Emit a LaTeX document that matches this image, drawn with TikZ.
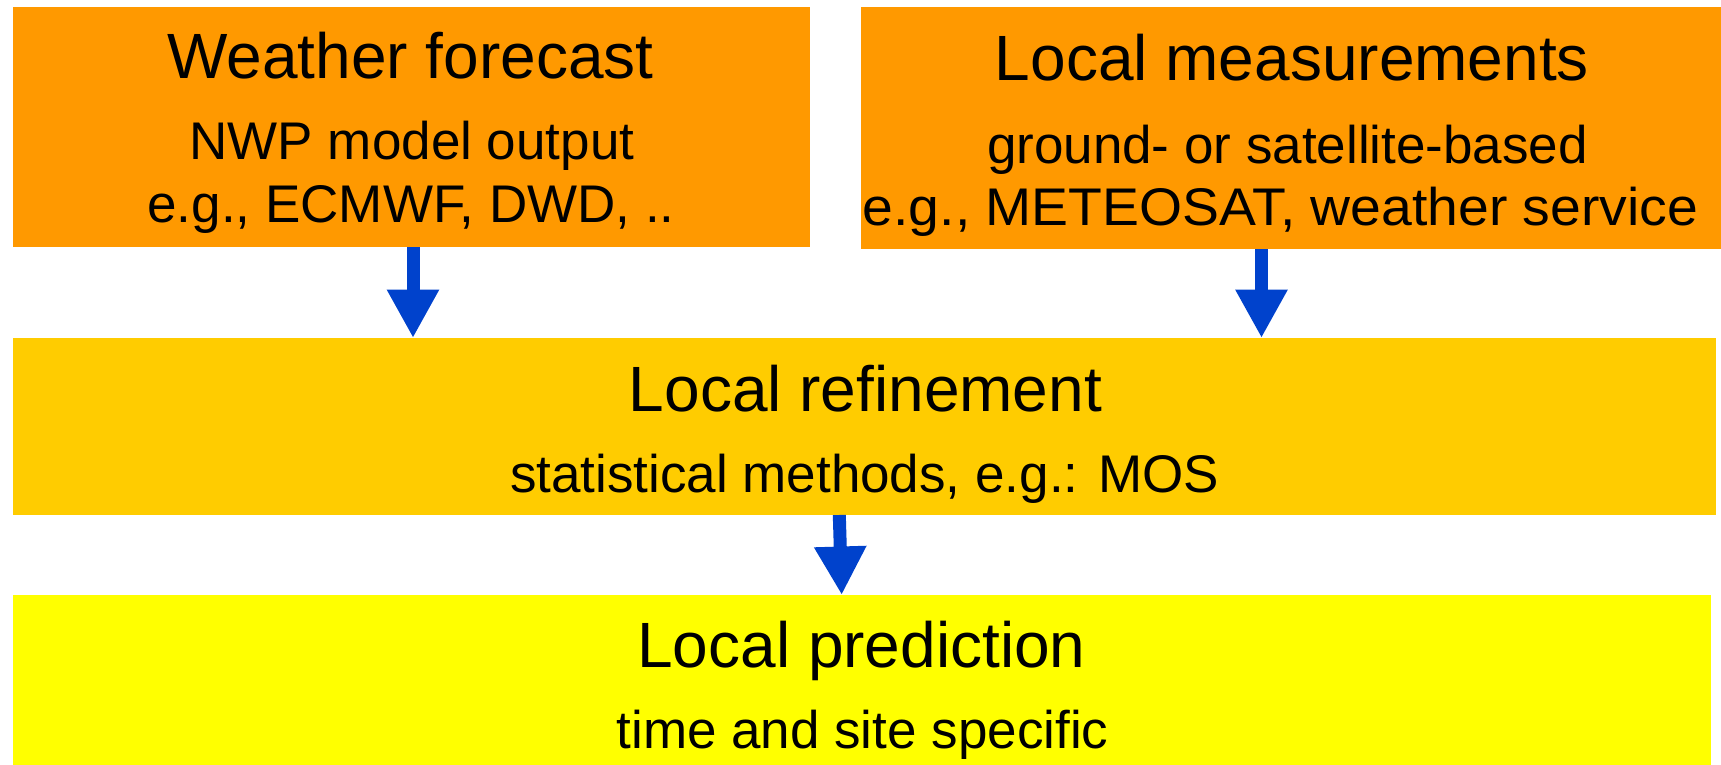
\documentclass[tikz,border=0pt]{standalone}
\usepackage{fontspec}
\setmainfont{Liberation Sans}
\usetikzlibrary{arrows.meta}

\definecolor{wforange}{HTML}{FF9900}
\definecolor{wfgold}{HTML}{FFCC00}
\definecolor{wfyellow}{HTML}{FFFF00}
\definecolor{wfblue}{HTML}{0042CC}

\begin{document}
\begin{tikzpicture}
	[x=1pt, y=-1pt,
	box/.style={rectangle,draw=none,inner sep=0pt,outer sep=0pt},
	title/.style={anchor=base,inner sep=0pt,font=\fontsize{64}{64}\selectfont},
	sub/.style={anchor=base,inner sep=0pt,font=\fontsize{53}{53}\selectfont},
	flow/.style={draw=wfblue,line width=13pt,-{Triangle[width=49pt,length=48.5pt]}}]
	\useasboundingbox (0,0) rectangle (1721,765);
	% boxes
	\node (forecast) [box, fill=wforange, minimum width=797pt, minimum height=240pt] at (411.5,127) {};
	\node (measure) [box, fill=wforange, minimum width=860pt, minimum height=242pt] at (1291,128) {};
	\node (refine) [box, fill=wfgold, minimum width=1703pt, minimum height=177pt] at (864.5,426.5) {};
	\node (predict) [box, fill=wfyellow, minimum width=1698pt, minimum height=170pt] at (862,680) {};
	% texts
	\node (fctitle) [title] at (410.5,79) {Weather forecast};
	\node (fcsub1) [sub] at (412,159) {NWP model output};
	\node (fcsub2) [sub] at (411,222) {e.g., ECMWF, DWD, ..};
	\node (mstitle) [title] at (1292,81) {Local measurements};
	\node (mssub1) [sub] at (1287.5,163) {ground- or satellite-based};
	\node (mssub2) [sub] at (1280.5,225) {\scalebox{1.044}[1]{e.g., METEOSAT, weather service}};
	\node (rftitle) [title] at (865.5,411) {Local refinement};
	\node (rfsub) [sub] at (864.5,492) {statistical methods, e.g.: MOS};
	\node (prtitle) [title] at (861.5,667) {Local prediction};
	\node (prsub) [sub] at (862.5,748) {time and site specific};
	% arrows
	\draw [flow] ([xshift=1.5pt]forecast.south) -- ([xshift=-451.5pt]refine.north);
	\draw [flow] ([xshift=-29.5pt]measure.south) -- ([xshift=397pt]refine.north);
	\draw [flow] ([xshift=-25.2pt]refine.south) -- ([xshift=-20.3pt]predict.north);
\end{tikzpicture}
\end{document}
